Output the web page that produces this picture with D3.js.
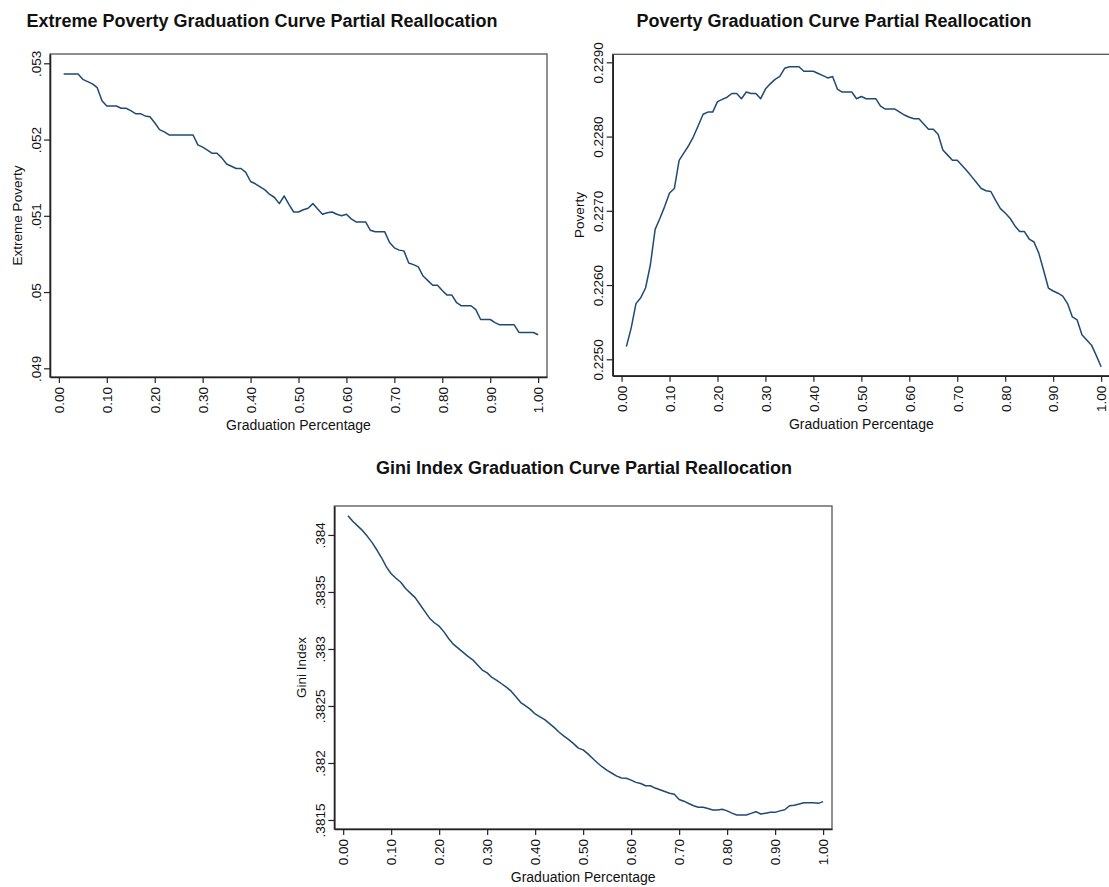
<!DOCTYPE html>
<html>
<head>
<meta charset="utf-8">
<script src="https://cdn.jsdelivr.net/npm/d3@7"></script>
<style>
  html, body { margin: 0; padding: 0; background: #fff; }
  svg { display: block; font-family: "Liberation Sans", Arial, Helvetica, sans-serif; }
</style>
</head>
<body>
<svg id="chart" width="1109" height="887"></svg>
<script>
// Graduation percentage grid: 0.01 .. 1.00
const graduation = d3.range(1, 101).map(i => i / 100);

// Extreme poverty rate at each graduation percentage
const extremePoverty = [
  0.05286, 0.05286, 0.05286, 0.05286, 0.05279, 0.05276, 0.05273, 0.05268, 0.05251, 0.05244,
  0.05244, 0.05244, 0.05241, 0.05241, 0.05238, 0.05234, 0.05234, 0.05231, 0.05230, 0.05222,
  0.05213, 0.05210, 0.05206, 0.05206, 0.05206, 0.05206, 0.05206, 0.05206, 0.05193, 0.05190,
  0.05186, 0.05182, 0.05182, 0.05176, 0.05168, 0.05165, 0.05162, 0.05162, 0.05157, 0.05145,
  0.05142, 0.05138, 0.05134, 0.05128, 0.05124, 0.05116, 0.05126, 0.05115, 0.05105, 0.05105,
  0.05108, 0.05110, 0.05116, 0.05109, 0.05102, 0.05104, 0.05105, 0.05102, 0.05100, 0.05102,
  0.05096, 0.05092, 0.05092, 0.05092, 0.05081, 0.05079, 0.05079, 0.05079, 0.05065, 0.05058,
  0.05055, 0.05054, 0.05038, 0.05036, 0.05033, 0.05021, 0.05015, 0.05009, 0.05009, 0.05002,
  0.04996, 0.04996, 0.04986, 0.04982, 0.04982, 0.04982, 0.04977, 0.04964, 0.04964, 0.04964,
  0.04960, 0.04957, 0.04957, 0.04957, 0.04957, 0.04947, 0.04947, 0.04947, 0.04947, 0.04944
];

// Poverty rate at each graduation percentage
const poverty = [
  0.22517, 0.22542, 0.22575, 0.22583, 0.22596, 0.22627, 0.22675, 0.22690, 0.22706, 0.22724,
  0.22730, 0.22768, 0.22778, 0.22788, 0.22800, 0.22815, 0.22830, 0.22833, 0.22833, 0.22847,
  0.22850, 0.22853, 0.22858, 0.22858, 0.22851, 0.22860, 0.22858, 0.22858, 0.22851, 0.22864,
  0.22871, 0.22877, 0.22881, 0.22892, 0.22894, 0.22894, 0.22894, 0.22888, 0.22888, 0.22888,
  0.22885, 0.22882, 0.22879, 0.22881, 0.22864, 0.22860, 0.22860, 0.22860, 0.22851, 0.22854,
  0.22851, 0.22851, 0.22851, 0.22841, 0.22837, 0.22837, 0.22837, 0.22833, 0.22829, 0.22826,
  0.22824, 0.22824, 0.22817, 0.22810, 0.22810, 0.22803, 0.22782, 0.22775, 0.22768, 0.22768,
  0.22761, 0.22754, 0.22746, 0.22738, 0.22730, 0.22727, 0.22726, 0.22714, 0.22703, 0.22697,
  0.22690, 0.22680, 0.22672, 0.22672, 0.22662, 0.22658, 0.22643, 0.22620, 0.22596, 0.22592,
  0.22589, 0.22585, 0.22575, 0.22557, 0.22553, 0.22533, 0.22526, 0.22519, 0.22505, 0.22490
];

// Gini index at each graduation percentage
const gini = [
  0.384169, 0.384120, 0.384080, 0.384040, 0.383990, 0.383935, 0.383870, 0.383800, 0.383720, 0.383660,
  0.383620, 0.383585, 0.383530, 0.383490, 0.383450, 0.383390, 0.383330, 0.383270, 0.383230, 0.383200,
  0.383150, 0.383090, 0.383040, 0.383005, 0.382970, 0.382935, 0.382905, 0.382860, 0.382815, 0.382790,
  0.382750, 0.382725, 0.382695, 0.382665, 0.382630, 0.382580, 0.382530, 0.382500, 0.382470, 0.382430,
  0.382405, 0.382380, 0.382345, 0.382310, 0.382270, 0.382235, 0.382205, 0.382170, 0.382130, 0.382115,
  0.382080, 0.382040, 0.382000, 0.381965, 0.381935, 0.381910, 0.381885, 0.381868, 0.381866, 0.381850,
  0.381830, 0.381820, 0.381800, 0.381800, 0.381780, 0.381765, 0.381750, 0.381735, 0.381725, 0.381680,
  0.381665, 0.381645, 0.381625, 0.381612, 0.381612, 0.381600, 0.381588, 0.381588, 0.381594, 0.381580,
  0.381560, 0.381544, 0.381544, 0.381544, 0.381558, 0.381573, 0.381553, 0.381560, 0.381567, 0.381567,
  0.381580, 0.381590, 0.381625, 0.381630, 0.381640, 0.381652, 0.381652, 0.381652, 0.381646, 0.381661
];

// Axis ticks
const xTicks = [0, 0.1, 0.2, 0.3, 0.4, 0.5, 0.6, 0.7, 0.8, 0.9, 1.0];
const xTickLabels = ["0.00", "0.10", "0.20", "0.30", "0.40", "0.50", "0.60", "0.70", "0.80", "0.90", "1.00"];
const extremeTicks = [0.049, 0.050, 0.051, 0.052, 0.053];
const extremeTickLabels = [".049", ".05", ".051", ".052", ".053"];
const povertyTicks = [0.2250, 0.2260, 0.2270, 0.2280, 0.2290];
const povertyTickLabels = ["0.2250", "0.2260", "0.2270", "0.2280", "0.2290"];
const giniTicks = [0.3815, 0.3820, 0.3825, 0.3830, 0.3835, 0.3840];
const giniTickLabels = [".3815", ".382", ".3825", ".383", ".3835", ".384"];

const LINE_COLOR = "#1f4a74";
const svg = d3.select("#chart");

function drawPanel(opt) {
  const { box, yDomain, values, yTicks, yLabels, title, titleX, titleY, yTitle } = opt;
  const x = d3.scaleLinear().domain([-0.0185, 1.0185]).range([box.left, box.right]);
  const y = d3.scaleLinear().domain(yDomain).range([box.bottom, box.top]);

  const g = svg.append("g");

  // plot region outline
  g.append("rect")
    .attr("x", box.left).attr("y", box.top)
    .attr("width", box.right - box.left).attr("height", box.bottom - box.top)
    .attr("fill", "none").attr("stroke", "#555").attr("stroke-width", 1.3);

  // curve
  g.append("path")
    .datum(graduation.map((gp, i) => [gp, values[i]]))
    .attr("fill", "none")
    .attr("stroke", LINE_COLOR)
    .attr("stroke-width", 1.5)
    .attr("stroke-linejoin", "round")
    .attr("d", d3.line().x(d => x(d[0])).y(d => y(d[1])));

  // bottom axis
  const xa = g.append("g")
    .attr("transform", `translate(0,${box.bottom})`)
    .call(d3.axisBottom(x).tickValues(xTicks).tickSize(6).tickSizeOuter(0)
      .tickFormat((d, i) => xTickLabels[i]));
  xa.select(".domain").attr("stroke", "#222").attr("stroke-width", 1.6);
  xa.selectAll(".tick line").attr("stroke", "#222").attr("stroke-width", 1.2);
  xa.selectAll(".tick text")
    .attr("x", null).attr("y", null).attr("dy", null)
    .attr("transform", "translate(4.8,10) rotate(-90)")
    .attr("text-anchor", "end")
    .attr("fill", "#111")
    .style("font-size", "13.5px");

  // left axis
  const ya = g.append("g")
    .attr("transform", `translate(${box.left},0)`)
    .call(d3.axisLeft(y).tickValues(yTicks).tickSize(6).tickSizeOuter(0)
      .tickFormat((d, i) => yLabels[i]));
  ya.select(".domain").attr("stroke", "#222").attr("stroke-width", 1.6);
  ya.selectAll(".tick line").attr("stroke", "#222").attr("stroke-width", 1.2);
  ya.selectAll(".tick text")
    .attr("x", null).attr("y", null).attr("dy", null)
    .attr("transform", "translate(-9.5,0) rotate(-90)")
    .attr("text-anchor", "middle")
    .attr("fill", "#111")
    .style("font-size", "13.5px");

  // axis titles
  g.append("text")
    .attr("transform", `translate(${box.left - 28.5},${(box.top + box.bottom) / 2}) rotate(-90)`)
    .attr("text-anchor", "middle")
    .style("font-size", "13.5px")
    .attr("fill", "#111")
    .text(yTitle);

  g.append("text")
    .attr("x", (box.left + Math.min(box.right, 1109 + 9)) / 2)
    .attr("y", box.bottom + 53)
    .attr("text-anchor", "middle")
    .style("font-size", "14px")
    .attr("fill", "#111")
    .text("Graduation Percentage");

  // panel title
  g.append("text")
    .attr("x", titleX).attr("y", titleY)
    .attr("text-anchor", "middle")
    .style("font-size", "18px")
    .style("font-weight", "bold")
    .attr("fill", "#111")
    .text(title);
}

drawPanel({
  box: { left: 50, top: 54, right: 547, bottom: 377 },
  yDomain: [0.048886, 0.053122],
  values: extremePoverty,
  yTicks: extremeTicks, yLabels: extremeTickLabels,
  title: "Extreme Poverty Graduation Curve Partial Reallocation",
  titleX: 262, titleY: 27,
  yTitle: "Extreme Poverty"
});

drawPanel({
  box: { left: 612.7, top: 54.3, right: 1110, bottom: 375.7 },
  yDomain: [0.224779, 0.229108],
  values: poverty,
  yTicks: povertyTicks, yLabels: povertyTickLabels,
  title: "Poverty Graduation Curve Partial Reallocation",
  titleX: 834, titleY: 27,
  yTitle: "Poverty"
});

drawPanel({
  box: { left: 334.3, top: 506, right: 832, bottom: 829 },
  yDomain: [0.381421, 0.384254],
  values: gini,
  yTicks: giniTicks, yLabels: giniTickLabels,
  title: "Gini Index Graduation Curve Partial Reallocation",
  titleX: 584, titleY: 474,
  yTitle: "Gini Index"
});
</script>
</body>
</html>
